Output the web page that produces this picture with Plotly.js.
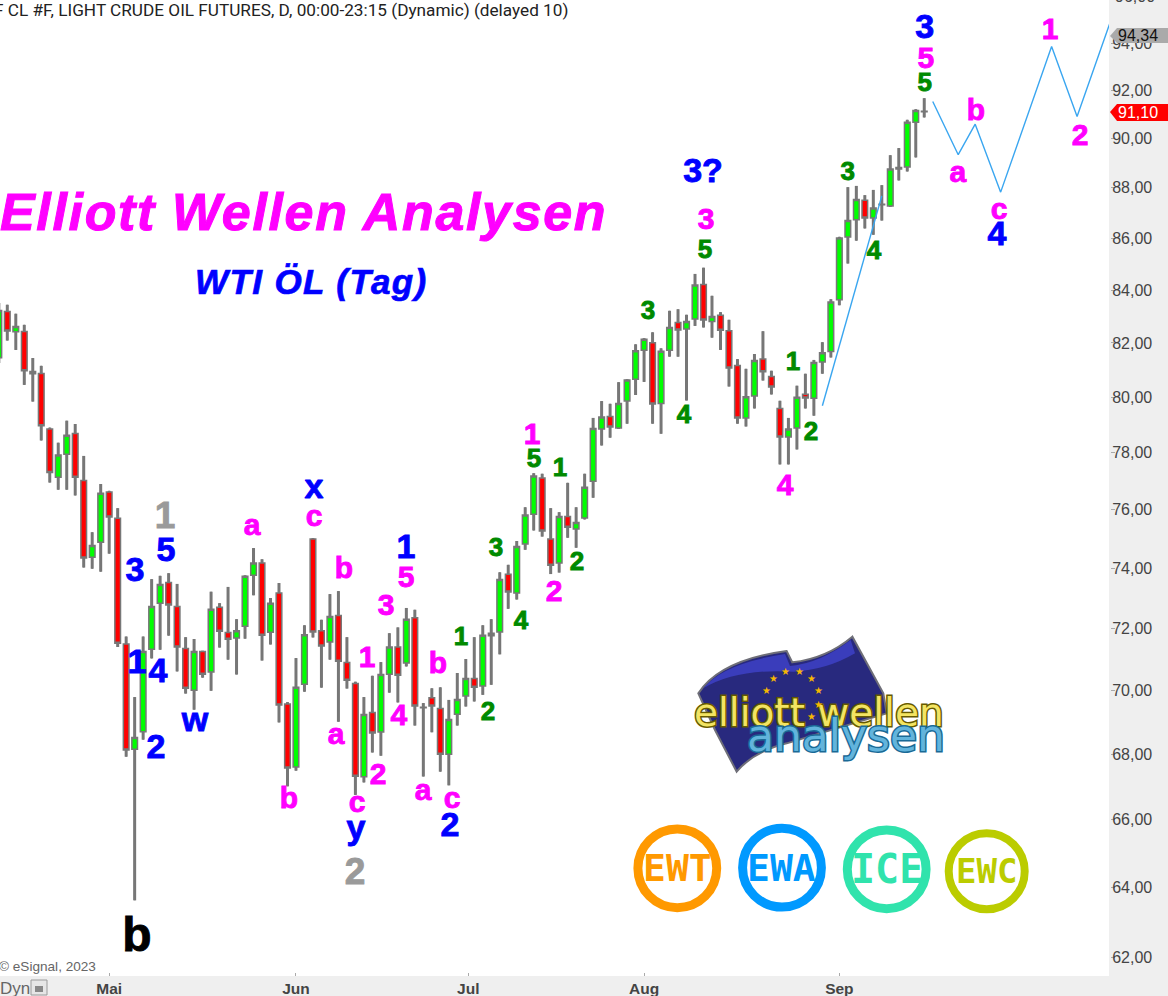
<!DOCTYPE html>
<html><head><meta charset="utf-8">
<script src="https://cdn.plot.ly/plotly-3.0.1.min.js"></script>
<style>
html,body{margin:0;padding:0;background:#efefef;overflow:hidden}
#chart{width:1168px;height:996px}
text.annotation-text[data-unformatted="elliott wellen"]{paint-order:stroke;stroke:#665a00;stroke-width:3px}
text.annotation-text[data-unformatted="analysen"]{paint-order:stroke;stroke:#1a6a96;stroke-width:3px}
text.annotation-text[data-unformatted*="Elliott"]{letter-spacing:1.65px;stroke:#ff00ff;stroke-width:1px}
text.annotation-text[data-unformatted*="WTI"]{letter-spacing:1.4px;stroke:#0000ff;stroke-width:0.7px}
</style></head><body><div id="chart"></div>
<script>
// ---- candles, in bar order (daily, Apr-Sep 2023) ----
const opens=[81.45,83.18,82.42,82.43,80.94,80.87,78.85,77.14,77.95,78.69,77.02,74.38,74.89,76.62,75.71,71.50,68.15,68.70,71.33,72.84,73.53,72.73,71.35,70.01,71.25,70.59,72.70,71.87,71.69,72.08,73.77,74.18,71.88,73.18,69.57,67.60,70.20,75.00,71.93,71.56,72.43,70.90,70.22,67.30,69.30,68.69,70.52,71.40,70.88,72.36,69.47,69.77,69.43,68.00,69.25,69.82,70.38,70.14,71.77,71.89,73.80,73.18,74.83,75.85,77.11,75.00,74.18,75.77,75.34,75.72,77.00,78.85,79.30,78.89,79.86,80.66,81.73,82.01,79.77,81.73,82.77,82.52,82.90,84.21,82.81,83.04,82.46,81.16,79.25,80.04,81.40,80.76,79.59,78.56,78.89,80.11,79.96,81.29,81.68,83.63,86.05,86.73,87.51,86.80,87.35,87.28,88.76,88.84,90.67,91.13];
const highs=[83.51,83.44,83.10,82.68,81.44,81.15,78.90,78.36,79.15,79.03,77.89,75.23,76.90,76.66,76.06,71.74,69.79,71.74,73.64,73.75,73.84,73.48,71.72,71.66,71.28,73.22,72.84,73.38,72.31,73.77,74.69,74.31,73.01,73.51,69.63,71.04,72.11,75.03,72.29,73.14,73.24,71.72,70.28,69.79,70.47,70.91,71.85,72.04,72.68,72.62,69.60,70.07,70.10,69.70,70.56,71.01,71.72,72.11,72.31,73.87,74.12,74.93,76.09,77.28,77.26,76.06,75.92,76.94,76.09,77.26,79.25,79.86,79.76,80.55,80.66,81.95,82.18,82.40,81.80,83.21,83.27,83.06,84.62,84.86,83.78,83.16,82.87,81.40,81.04,81.59,82.44,80.97,79.87,79.25,80.42,80.86,81.37,82.03,83.65,86.06,88.03,88.08,87.71,87.92,88.11,89.32,89.61,90.77,91.21,91.67];
const lows=[81.26,82.09,81.74,80.45,79.84,78.44,76.95,76.70,76.70,76.50,74.03,73.99,73.89,74.50,71.40,67.92,63.62,68.45,71.03,71.31,71.77,70.61,69.90,69.39,70.41,69.99,71.38,70.99,70.51,71.67,73.10,70.96,71.48,68.99,67.01,67.49,69.96,71.71,70.09,70.99,69.01,70.06,66.75,67.13,68.05,67.95,69.93,69.62,70.77,68.89,67.31,68.68,67.46,67.04,68.89,69.49,69.65,69.86,70.18,71.16,72.65,72.96,74.63,75.29,75.08,73.81,73.86,75.04,74.70,75.67,76.42,78.26,78.54,78.85,79.04,80.08,80.56,79.04,78.68,81.49,81.49,79.88,82.64,82.58,82.20,81.74,80.39,79.04,78.94,79.59,80.61,80.10,77.59,77.59,78.12,79.59,79.33,80.86,81.46,83.42,85.02,85.91,86.39,86.14,86.70,87.24,88.30,88.66,89.23,90.87];
const closes=[83.22,82.45,82.62,80.97,80.86,78.97,77.30,77.92,78.63,77.14,74.35,74.78,76.58,75.75,71.52,68.13,68.52,71.25,72.73,73.46,72.78,71.40,70.07,71.25,70.52,72.64,71.91,71.65,71.93,73.74,74.18,71.78,72.84,69.54,67.57,70.10,71.80,71.89,71.43,72.40,70.94,70.33,67.32,69.24,68.66,70.51,71.40,70.49,72.31,69.51,69.45,69.51,68.00,69.08,69.71,70.38,70.10,71.78,71.85,73.63,73.21,74.74,75.82,77.18,75.27,74.11,75.77,75.40,75.56,76.79,78.87,79.28,78.92,79.77,80.63,81.71,82.14,79.75,81.69,82.58,82.49,82.81,84.19,82.86,82.99,82.48,81.07,79.25,80.02,81.35,80.93,80.37,78.56,78.85,80.00,79.97,81.27,81.64,83.54,86.01,86.70,87.54,86.80,87.20,87.33,88.76,88.82,90.67,91.16,91.10];
const bars=opens.map((_,i)=>i);

// ---- month ticks on the bar axis ----
const monthBars=[13,35,55.3,76,99];
const monthLabels=['Mai','Jun','Jul','Aug','Sep'];
const priceTicks=[62,64,66,68,70,72,74,76,78,80,82,84,86,88,90,92,94];

// ---- hand-drawn forecast lines ----
const riseBars=[97,104];
const risePrices=[79.69,87.68];
const pathBars=[110,113,115,118,124,127,131];
const pathPrices=[91.53,89.34,90.59,87.83,93.85,90.91,95.0];

// ---- wave labels ----
const blueText=['3','5','1','4','2','w','x','y','2','1','3?','3','4'];
const blueBars=[16.04,19.69,16.28,18.75,18.51,23.11,37.13,42.07,53.14,47.96,82.94,109.06,117.57];
const bluePrices=[73.95,74.63,70.92,70.63,68.23,69.07,76.80,65.76,65.85,74.73,88.69,94.68,86.18];
const pinkText=['a','c','b','5','3','1','a','4','2','b','c','b','a','c','1','2','3','4','5','a','b','c','1','2'];
const pinkBars=[29.82,37.13,40.66,47.96,45.6,43.37,39.72,47.13,44.66,34.18,42.19,51.73,49.96,53.38,62.8,65.39,83.29,92.6,109.2,112.97,115.09,117.8,123.81,127.35];
const pinkPrices=[75.48,75.79,74.02,73.72,72.79,71.08,68.63,69.23,67.39,66.66,66.52,70.89,66.91,66.66,78.68,73.25,86.77,76.87,93.37,88.65,91.18,87.17,94.60,90.15];
const greenText=['1','2','3','4','5','1','2','3','4','5','1','2','3','4','5'];
const greenBars=[54.44,57.62,58.56,61.5,63.04,66.1,68.1,76.46,80.7,83.17,93.54,95.66,100.0,103.08,109.06];
const greenPrices=[71.76,69.36,74.73,72.29,77.82,77.50,74.26,83.25,79.40,85.60,81.34,78.79,88.69,85.56,92.35];
const grayText=['1','2'];
const grayBars=[19.57,41.95];
const grayPrices=[75.79,64.45];
const blackText=['b'];
const blackBars=[16.28];
const blackPrices=[62.57];

// ---- page geometry ----
const PW=1109, PH=976;
const px=x=>x/PW, py=y=>1-y/PH;
const AR='"Liberation Sans",Arial,sans-serif';
const LABEL_DROP=Math.exp(-2.5/2196); // nudges a centred glyph down by 2.5 px on this log axis

const wx=[],wy=[];
bars.forEach((b,i)=>{wx.push(b,b,null);wy.push(lows[i],highs[i],null);});

function labels(text,x,y,color,size){
  return {type:'scatter',mode:'text',x,y:y.map(p=>p*LABEL_DROP),text,cliponaxis:false,hoverinfo:'skip',zorder:4,showlegend:false,
    textposition:'middle center',textfont:{family:AR,size,color,weight:'bold'}};
}
const traces=[
 {type:'scatter',mode:'lines',x:wx,y:wy,line:{color:'#777777',width:3},hoverinfo:'skip',zorder:0,showlegend:false,connectgaps:false},
 {type:'candlestick',x:bars,open:opens,high:highs,low:lows,close:closes,whiskerwidth:0,zorder:1,showlegend:false,hoverinfo:'skip',
  increasing:{line:{color:'#777777',width:1.5},fillcolor:'#00ff00'},
  decreasing:{line:{color:'#777777',width:1.5},fillcolor:'#ff0000'}},
 {type:'scatter',mode:'lines',x:riseBars,y:risePrices,line:{color:'#3aa6f0',width:1.4},hoverinfo:'skip',zorder:2,showlegend:false},
 {type:'scatter',mode:'lines',x:pathBars,y:pathPrices,line:{color:'#3aa6f0',width:1.4},hoverinfo:'skip',zorder:2,showlegend:false},
 labels(greenText,greenBars,greenPrices,'#008a00',26),
 labels(pinkText,pinkBars,pinkPrices,'#ff00ff',30),
 labels(blueText,blueBars,bluePrices,'#0000ff',34),
 labels(grayText,grayBars,grayPrices,'#9a9a9a',37),
 labels(blackText,blackBars,blackPrices,'#000000',48),
];

const ann=(text,x,y,size,color,extra={})=>Object.assign({text,x:px(x),y:py(y),xref:'paper',yref:'paper',showarrow:false,
  xanchor:'left',yanchor:'middle',font:{family:AR,size,color}},extra);
const annotations=[
 ann('F CL #F, LIGHT CRUDE OIL FUTURES, D, 00:00-23:15 (Dynamic) (delayed 10)',-8,10,17,'#222222',{font:{family:'Roboto,'+AR,size:17.2,color:'#222222'}}),
 ann('<b><i>Elliott Wellen Analysen</i></b>',-2,212,52,'#ff00ff'),
 ann('<b><i>WTI ÖL (Tag)</i></b>',193,282,35,'#0000ff'),
 ann('© eSignal, 2023',-3,966,13.6,'#666666'),
 ann('Dyn',-2,988,17,'#666666'),
 ann('96,00',1113,-3,16,'#444444'),
 ann('94,34',1116,35,16,'#111111'),
 ann('91,10',1116,112,16,'#ffffff'),
 ann('elliott wellen',819,712,39,'#f3e463',{xanchor:'center',font:{family:'"DejaVu Sans"',size:39,color:'#f3e463'}}),
 ann('analysen',846,735,44,'#62b4dc',{xanchor:'center',font:{family:'"DejaVu Sans"',size:44,color:'#62b4dc'}}),
];
const MONO='"DejaVu Sans Mono",monospace';
[['EWT',677.3,868.3,'#ff9900',38],['EWA',782,867.7,'#0099ff',38],['ICE',886.7,869.3,'#30e3ac',40],['EWC',986.7,871.3,'#bbcc00',34]]
 .forEach(([t,x,y,c,s])=>annotations.push(ann('<b>'+t+'</b>',x,y,s,c,{xanchor:'center',font:{family:MONO,size:s,color:c}})));
[[773,678],[785,671],[799,671],[811,678],[818,690],[767,690],[818,704],[811,716]]
 .forEach(([x,y])=>annotations.push(ann('★',x,y,10,'#f5b800',{xanchor:'center',font:{family:'"DejaVu Sans"',size:10,color:'#f5b800'}})));

const poly=(pts,fill,line='rgba(0,0,0,0)',w=0)=>({type:'path',xref:'paper',yref:'paper',layer:'above',fillcolor:fill,
  line:{color:line,width:w},path:pts});
const P=(x,y)=>px(x)+','+py(y);
const Z=(x,y)=>P(620+x/3,630+y/3);
const shapes=[
 poly('M'+P(1110,36)+' L'+P(1117,28)+' L'+P(1168,28)+' L'+P(1168,43)+' L'+P(1117,43)+' Z','#aaaaaa'),
 poly('M'+P(1110,112)+' L'+P(1117,104)+' L'+P(1168,104)+' L'+P(1168,121)+' L'+P(1117,121)+' Z','#ff0000'),
 {type:'rect',xref:'paper',yref:'paper',layer:'above',x0:px(31),x1:px(47),y0:py(995),y1:py(980),fillcolor:'#e6e6e6',line:{color:'#9a9a9a',width:1}},
 {type:'rect',xref:'paper',yref:'paper',layer:'above',x0:px(35),x1:px(43),y0:py(992),y1:py(986),fillcolor:'#888888',line:{width:0}},
 poly('M'+Z(235,190)+' Q'+Z(300,90)+' '+Z(500,63)+' L'+Z(517,97)+' Q'+Z(620,85)+' '+Z(697,20)+' L'+Z(790,190)+' L'+Z(800,250)+' L'+Z(500,340)+' Q'+Z(400,365)+' '+Z(350,425)+' L'+Z(285,300)+' Z','#28297e','#6f6f78',2),
 poly('M'+Z(250,175)+' Q'+Z(310,100)+' '+Z(495,72)+' L'+Z(510,108)+' Q'+Z(600,100)+' '+Z(692,30)+' L'+Z(705,70)+' Q'+Z(620,120)+' '+Z(520,125)+' Q'+Z(350,115)+' '+Z(250,175)+' Z','#3a3dbb'),
];
[[677.3,868.3,39.4,9,'#ff9900'],[782,867.7,39.4,9,'#0099ff'],[886.7,869.3,39.4,9,'#30e3ac'],[986.7,871.3,38,8,'#bbcc00']]
 .forEach(([x,y,r,w,c])=>shapes.push({type:'circle',xref:'paper',yref:'paper',layer:'above',x0:px(x-r),x1:px(x+r),y0:py(y+r),y1:py(y-r),
   fillcolor:'rgba(0,0,0,0)',line:{color:c,width:w}}));

const layout={
 width:1168,height:996,margin:{l:0,r:59,t:0,b:20,pad:0},autosize:false,
 paper_bgcolor:'#efefef',plot_bgcolor:'#ffffff',separators:',.',showlegend:false,
 boxmode:'overlay',boxgap:0.05,dragmode:false,
 xaxis:{type:'linear',range:[0.14,130.76],tickmode:'array',tickvals:monthBars,ticktext:monthLabels,
   showgrid:false,zeroline:false,rangeslider:{visible:false},ticks:'inside',ticklen:3,tickcolor:'#aaaaaa',ticklabelstandoff:-3,
   showline:true,linecolor:'#a0a0a0',linewidth:2,tickfont:{family:AR,size:15.5,color:'#444444',weight:'bold'}},
 yaxis:{type:'log',side:'right',range:[Math.log10(61.466),Math.log10(95.86)],tickmode:'array',tickvals:priceTicks,
   tickformat:'.2f',showgrid:false,zeroline:false,ticks:'outside',ticklen:4,tickcolor:'#aaaaaa',ticklabelstandoff:-6,
   showline:true,linecolor:'#a0a0a0',linewidth:2,tickfont:{family:AR,size:16,color:'#444444'}},
 annotations,shapes
};
Plotly.newPlot('chart',traces,layout,{displayModeBar:false,staticPlot:true}).then(()=>{
  document.querySelectorAll('.textpoint text').forEach(t=>{t.style.stroke=t.style.fill;t.style.strokeWidth='0.9px';});
});
</script></body></html>
